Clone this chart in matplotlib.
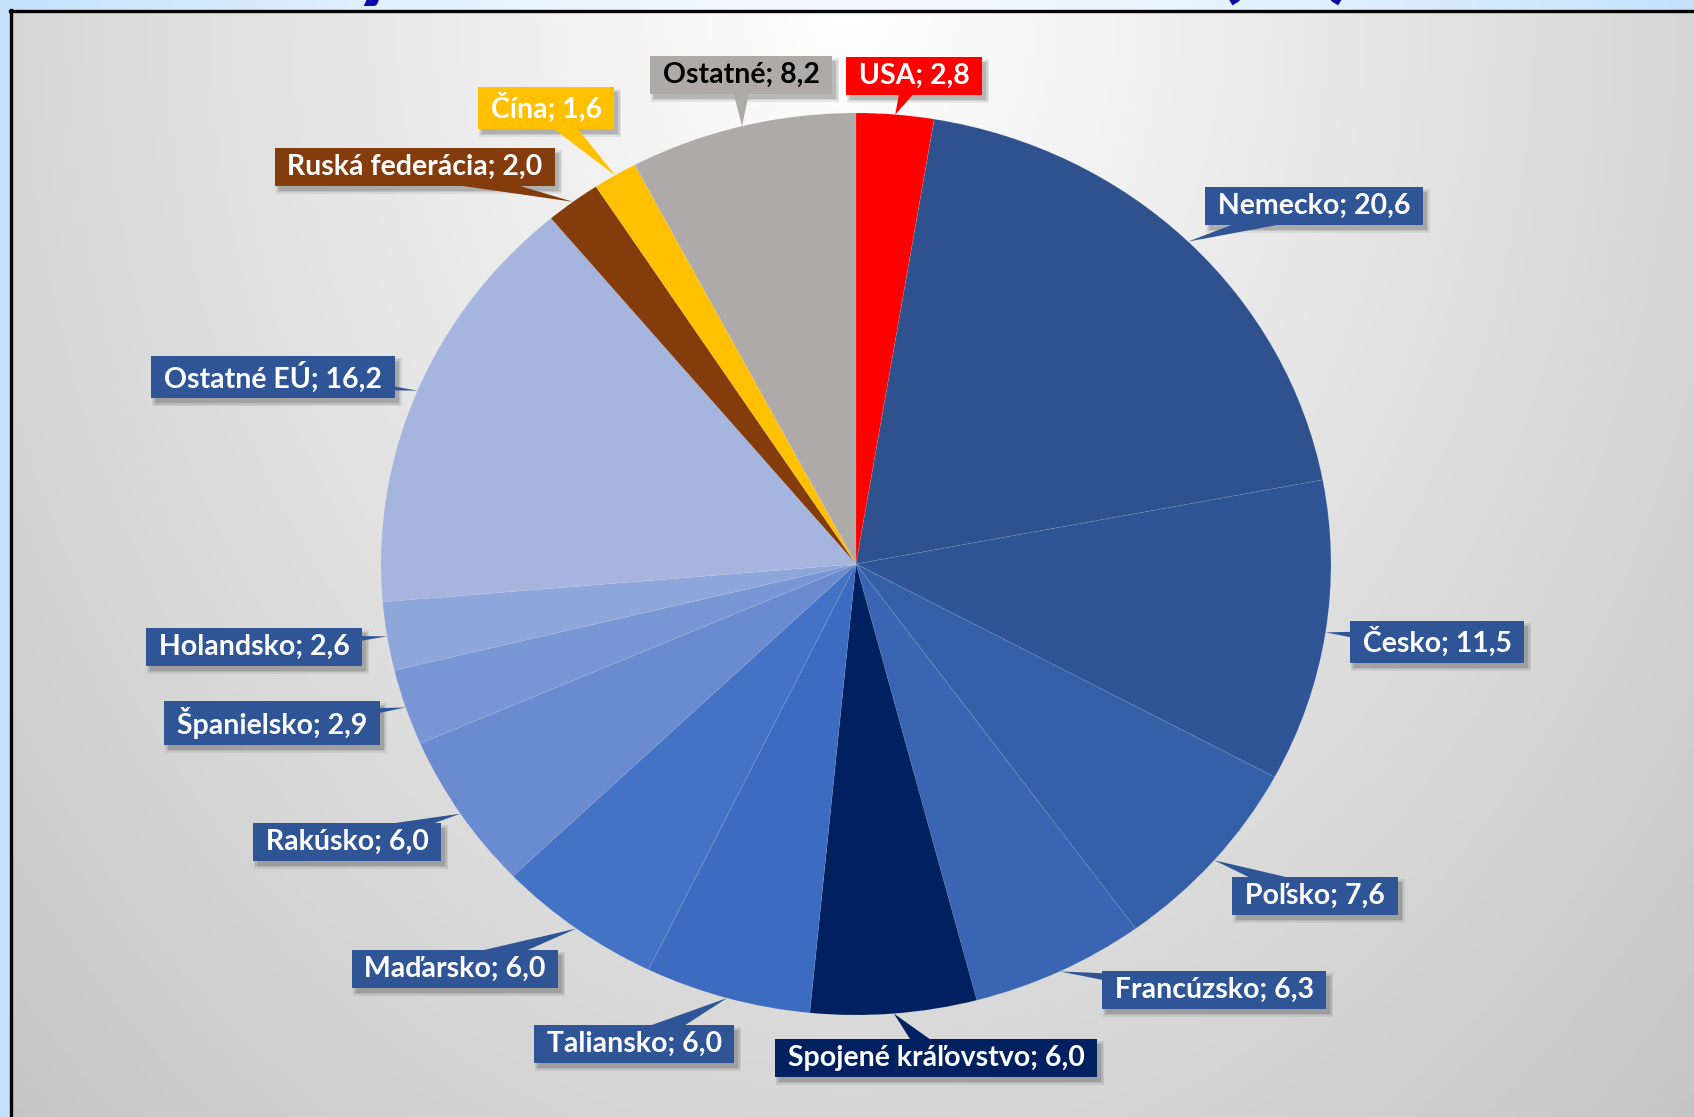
import numpy as np
import matplotlib.pyplot as plt
from matplotlib.patches import Polygon, Rectangle

countries = ['USA', 'Nemecko', 'Česko', 'Poľsko', 'Francúzsko', 'Spojené kráľovstvo',
             'Taliansko', 'Maďarsko', 'Rakúsko', 'Španielsko', 'Holandsko', 'Ostatné EÚ',
             'Ruská federácia', 'Čína', 'Ostatné']
shares = [2.8, 20.6, 11.5, 7.6, 6.3, 6.0, 6.0, 6.0, 6.0, 2.9, 2.6, 16.2, 2.0, 1.6, 8.2]

slice_colors = ['#ff0000', '#2f528f', '#2f5597', '#3460a8', '#3965b3', '#002060',
                '#3d6bbf', '#4472c4', '#6a8bcf', '#7a97d5', '#8ea6da', '#a6b5dd',
                '#843c0c', '#ffc000', '#aeaaaa']
box_colors = ['#ff0000', '#2f5597', '#2f5597', '#2f5597', '#2f5597', '#002060',
              '#2f5597', '#2f5597', '#2f5597', '#2f5597', '#2f5597', '#2f5597',
              '#843c0c', '#ffc000', '#aeaaaa']
text_colors = ['white'] * 14 + ['black']

# label box centres in pixels (x from left, y from top)
label_pos = [(914, 76), (1314, 206), (1437, 642), (1315, 896), (1214, 990), (936, 1058),
             (634, 1044), (455, 969), (347, 842), (272, 723), (254, 647), (273, 377),
             (415, 167), (546, 108), (741, 75)]

FONT = ['Lato', 'DejaVu Sans']
W, H = 1694, 1117
fig = plt.figure(figsize=(W / 100, H / 100), dpi=100)

# background: light blue frame + grey gradient panel
bg = fig.add_axes([0, 0, 1, 1], zorder=0)
bg.set_xlim(0, W)
bg.set_ylim(H, 0)
bg.axis('off')
xs = np.linspace(-1, 1, 400)
blue = np.abs(xs)[None, :, None]
c_edge = np.array([0.77, 0.886, 0.984])
c_mid = np.array([0.955, 0.98, 1.0])
outer = c_mid + (c_edge - c_mid) * blue ** 1.5
bg.imshow(np.repeat(outer, 10, axis=0), extent=[0, W, H, 0], aspect='auto', zorder=0)

gx, gy = np.meshgrid(np.linspace(12, W, 400), np.linspace(12, H, 300))
r = np.sqrt(((gx - 850) / (W / 2)) ** 2 + (gy / H) ** 2)
grey = np.clip(1.0 - 0.16 * r, 0.74, 1.0)
bg.imshow(np.dstack([grey, grey, grey]), extent=[12, W, H, 12], aspect='auto', zorder=1)
bg.plot([11, 11], [10, H], color='black', lw=2.4, zorder=2, solid_capstyle='projecting')
bg.plot([10, W], [11, 11], color='black', lw=2.4, zorder=2, solid_capstyle='projecting')

# partially visible title above the panel (only descenders show)
fig.canvas.draw()
rend = fig.canvas.get_renderer()


def text_width(s, fs):
    t = bg.text(0, 0, s, fontsize=fs, fontweight='bold', family=FONT)
    w = t.get_window_extent(rend).width
    t.remove()
    return w


fs0 = 60
a = text_width('V', fs0)
b = text_width('Vývoz zo Slovenska ', fs0)
k = (1222 - 360) / (b - a)
bg.text(352 - a * k, -11, 'Vývoz zo Slovenska (%)', fontsize=fs0 * k, fontweight='bold',
        color='#0a0aa8', ha='left', va='baseline', family=FONT, zorder=3, clip_on=False)

# pie (slightly elliptical)
cx, cy, rx, ry = 856, 564, 475, 451
pax = fig.add_axes([(cx - rx) / W, (H - cy - ry) / H, 2 * rx / W, 2 * ry / H], zorder=1)
wedges, _ = pax.pie(shares, colors=slice_colors, startangle=90, counterclock=False,
                    wedgeprops=dict(linewidth=0.5, edgecolor=(1, 1, 1, 0.1)))
pax.set_aspect('auto')
pax.set_xlim(-1, 1)
pax.set_ylim(-1, 1)

# labels with callout pointers
top = fig.add_axes([0, 0, 1, 1], zorder=2)
top.set_xlim(0, W)
top.set_ylim(H, 0)
top.axis('off')
to_top = pax.transData + top.transData.inverted()

labels = []
for i, w in enumerate(wedges):
    mid = np.deg2rad((w.theta1 + w.theta2) / 2)
    tx, ty = to_top.transform((np.cos(mid), np.sin(mid)))
    bx, by = label_pos[i]
    d = np.array([tx - bx, ty - by])
    n = np.array([-d[1], d[0]]) / np.hypot(*d) * 12
    top.add_patch(Polygon([(tx, ty), (bx + n[0], by + n[1]), (bx - n[0], by - n[1])],
                          closed=True, color=box_colors[i], zorder=2, lw=0))
    label = f" {countries[i]}; {shares[i]:.1f} ".replace('.', ',')
    labels.append(top.text(bx, by, label, fontsize=20.5, fontweight='bold', family=FONT,
                           color=text_colors[i], ha='center', va='center',
                           bbox=dict(boxstyle='square,pad=0.2', fc=box_colors[i], ec='none'),
                           zorder=3))

# soft drop shadows under the label boxes
fig.canvas.draw()
inv = top.transData.inverted()
for t in labels:
    ext = t.get_bbox_patch().get_window_extent(rend)
    (x0, y1), (x1, y0) = inv.transform([(ext.x0, ext.y0), (ext.x1, ext.y1)])
    for grow, al in [(3, 0.07), (1.5, 0.09), (0, 0.12)]:
        top.add_patch(Rectangle((x0 + 4 - grow, y0 + 5 - grow), x1 - x0 + 2 * grow,
                                y1 - y0 + 2 * grow, color=(0, 0, 0, al), lw=0, zorder=1))

fig.savefig('out.png', dpi=100)
